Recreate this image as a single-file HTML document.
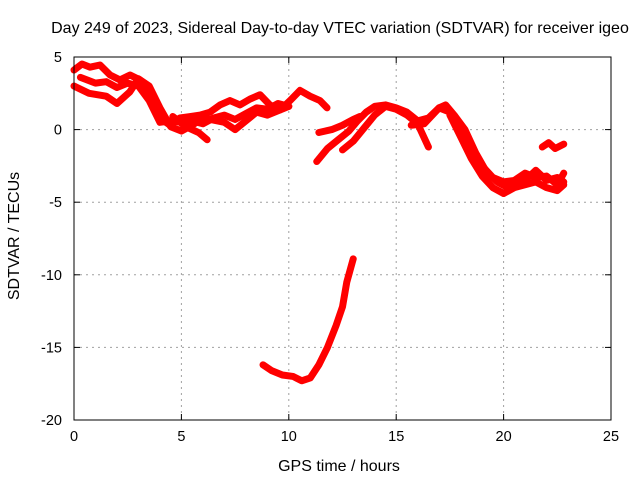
<!DOCTYPE html>
<html><head><meta charset="utf-8"><style>
body{margin:0;background:#fff;}
svg text{font-family:"Liberation Sans",sans-serif;font-size:14.5px;fill:#000;}
svg text.big{font-size:16px;}
</style></head><body>
<svg id="c" width="640" height="480">
<text class="big" x="340" y="33" text-anchor="middle">Day 249 of 2023, Sidereal Day-to-day VTEC variation (SDTVAR) for receiver igeo</text>
<text class="big" x="339" y="471" text-anchor="middle">GPS time / hours</text>
<text class="big" transform="translate(19,236) rotate(-90)" text-anchor="middle">SDTVAR / TECUs</text>
<g id="grid"></g><g id="series"></g>
<rect x="74" y="57" width="537" height="363" fill="none" stroke="#000" stroke-width="1"/>
<g id="ticks"></g>
</svg>
<script>
const xTicks=[0,5,10,15,20,25];
const yTicks=[5,0,-5,-10,-15,-20];
const trackA=[[0,4.1],[0.37,4.52],[0.74,4.3],[1.21,4.45],[1.68,3.76],[2.14,3.42],[2.61,3.76],[3.07,3.42],[3.54,2.4],[4.0,0.8],[4.47,0.3],[4.93,0.8],[5.4,0.9],[5.87,1.0],[6.33,1.2],[6.8,1.7],[7.26,2.0],[7.73,1.7],[8.19,2.1],[8.66,2.4],[9.12,1.7],[9.59,1.35],[10.06,2.0],[10.52,2.7],[10.99,2.3],[11.45,2.0],[11.78,1.5]];
const trackB=[[0,3.0],[0.7,2.5],[1.5,2.3],[2.0,1.8],[2.6,2.6],[3.0,3.5],[3.5,3.0],[4,1.5],[4.5,0.2],[5,-0.1],[5.5,0.3],[6,0.8],[7,0.5],[7.5,0.0],[8,0.6],[8.5,1.2],[9,1.0],[9.5,1.3],[10,1.6]];
const trackC=[[0.3,3.6],[1.0,3.2],[1.5,3.3],[2,2.9],[2.5,3.2],[3,3.0],[3.5,2.0],[4,0.5],[4.5,0.6],[5,0.5],[5.5,0.6],[6,0.4],[6.5,0.8],[7,1.0],[7.5,0.7],[8,1.1],[8.5,1.5],[9,1.4],[9.5,1.8],[10,1.6]];
const trackC2=[[4.6,0.9],[5.2,0.2],[5.8,-0.2],[6.2,-0.7]];
const trackD=[[8.8,-16.2],[9.2,-16.6],[9.7,-16.9],[10.2,-17.0],[10.6,-17.3],[11.0,-17.1],[11.4,-16.2],[11.8,-15.0],[12.2,-13.5],[12.5,-12.2],[12.7,-10.5],[13.0,-8.9]];
const trackE=[[11.3,-2.2],[11.8,-1.3],[12.3,-0.7],[12.8,-0.1],[13.2,0.6],[13.6,1.2],[14,1.6],[14.5,1.7],[15,1.5],[15.5,1.2],[16,0.6],[16.5,0.8],[17,1.5],[17.3,1.7],[17.7,1.0],[18.2,0],[18.7,-1.6],[19.2,-2.9],[19.7,-3.6],[20.2,-4.0],[20.6,-3.6],[21,-3.5],[21.5,-2.8],[22,-3.5],[22.5,-3.3],[22.8,-3.6]];
const trackF=[[11.4,-0.2],[12,0],[12.5,0.3],[13,0.7],[13.3,0.9]];
const trackG=[[12.5,-1.4],[13,-0.8],[13.5,0.1],[14,1.0],[14.5,1.6],[15,1.4],[15.5,1.0],[16,0.4],[16.5,-1.2]];
const trackH=[[15.7,0.3],[16.3,0.4],[17,1.5],[17.5,1.2],[18,0.2],[18.5,-1.2],[19,-2.5],[19.5,-3.3],[20,-3.6],[20.5,-3.5],[21,-3.0],[21.5,-3.3],[22,-3.2],[22.5,-3.8],[22.8,-3.0]];
const trackI=[[17.5,1.0],[18,-0.5],[18.5,-2],[19,-3.2],[19.5,-4.0],[20,-4.4],[20.5,-4.0],[21.5,-3.6],[22,-4.0],[22.5,-4.2],[22.8,-3.8]];
const trackJ=[[21.8,-1.2],[22.1,-0.9],[22.4,-1.3],[22.8,-1.0]];
const tracks=[trackA,trackB,trackC,trackC2,trackD,trackE,trackF,trackG,trackH,trackI,trackJ];
const X=h=>74+h*537/25, Y=v=>57+(5-v)*363/25;
const NS="http://www.w3.org/2000/svg";
const grid=document.getElementById('grid'),tk=document.getElementById('ticks'),ser=document.getElementById('series');
function mk(tag,a,p){const e=document.createElementNS(NS,tag);for(const k in a)e.setAttribute(k,a[k]);p.appendChild(e);return e;}
xTicks.forEach(t=>{const x=X(t);
 if(t>0&&t<25){const g=mk('line',{x1:x,x2:x,y1:57,y2:420,stroke:'#a0a0a0','stroke-dasharray':'2,4'},grid);
 
 }
 mk('line',{x1:x,x2:x,y1:420,y2:414,stroke:'#000'},tk);mk('line',{x1:x,x2:x,y1:57,y2:63,stroke:'#000'},tk);
 const l=mk('text',{x:x,y:441,'text-anchor':'middle'},tk);l.textContent=t;
 
 });
yTicks.forEach(t=>{const y=Y(t);
 if(t<5&&t>-20){const g=mk('line',{x1:74,x2:611,y1:y,y2:y,stroke:'#a0a0a0','stroke-dasharray':'2,4'},grid);
 
 }
 mk('line',{x1:74,x2:80,y1:y,y2:y,stroke:'#000'},tk);mk('line',{x1:611,x2:605,y1:y,y2:y,stroke:'#000'},tk);
 const l=mk('text',{x:62,y:y+5,'text-anchor':'end'},tk);l.textContent=t;
 
 });
tracks.forEach(tr=>{const p=mk('polyline',{points:tr.map(d=>X(d[0])+','+Y(d[1])).join(' '),fill:'none',stroke:'#ff0000','stroke-width':7,'stroke-linejoin':'round','stroke-linecap':'round'},ser);
 
 });
</script>
</body></html>
